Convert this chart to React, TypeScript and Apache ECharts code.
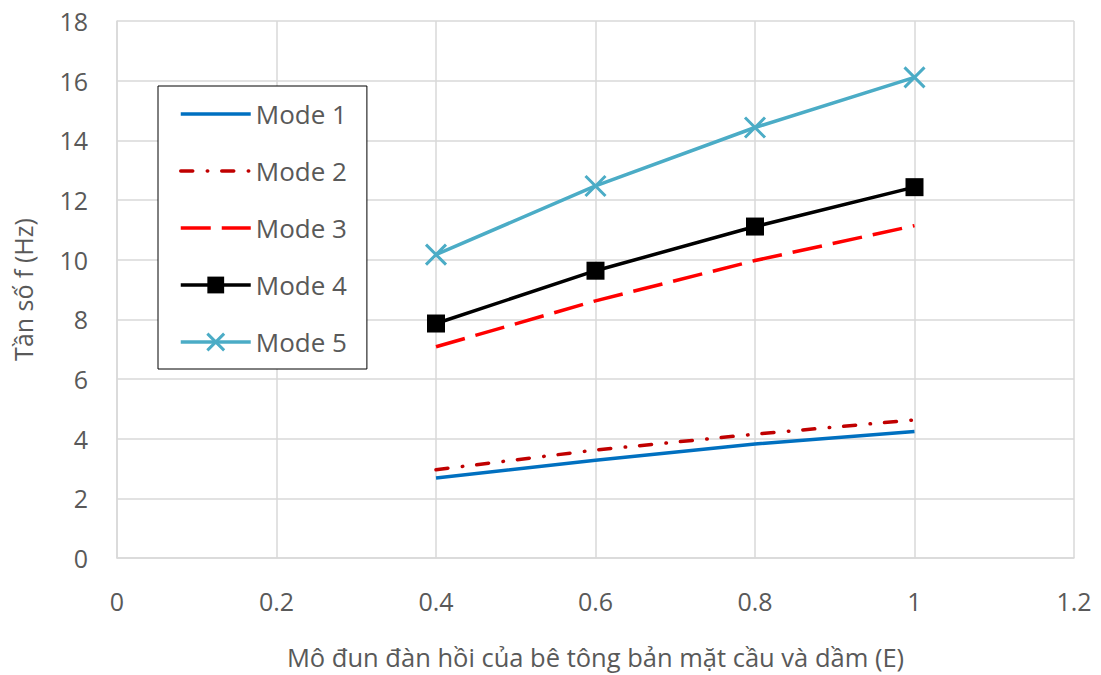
import React, { useEffect, useRef } from "react";
import * as echarts from "echarts";

// Elastic modulus of the deck / girder concrete (relative, E)
const xValues = [0.4, 0.6, 0.8, 1.0];

// Natural frequencies (Hz) for the first five modes
const mode1 = [2.68, 3.28, 3.82, 4.24];
const mode2 = [2.96, 3.62, 4.15, 4.63];
const mode3 = [7.08, 8.62, 9.97, 11.14];
const mode4 = [7.86, 9.63, 11.11, 12.43];
const mode5 = [10.17, 12.47, 14.43, 16.11];

const seriesNames = ["Mode 1", "Mode 2", "Mode 3", "Mode 4", "Mode 5"];

const xTickLabels = ["0", "0.2", "0.4", "0.6", "0.8", "1", "1.2"];
const yTickLabels = ["0", "2", "4", "6", "8", "10", "12", "14", "16", "18"];

const xTitle = "Mô đun đàn hồi của bê tông bản mặt cầu và dầm (E)";
const yTitle = "Tần số f (Hz)";

const FONT = "'Open Sans', 'Noto Sans', sans-serif";
const TEXT_COLOR = "#595959";
const GRID_COLOR = "#D9D9D9";
const CROSS = "path://M0,0L20,20M20,0L0,20";

const DASH_DOT = [12, 14.5, 0.5, 14];
const LONG_DASH = [30, 11];

const toPairs = (ys: number[]) => xValues.map((x, i) => [x, ys[i]]);

export default function App() {
  const ref = useRef<HTMLDivElement>(null);

  useEffect(() => {
    if (!ref.current) return;
    const chart = echarts.init(ref.current, undefined, { renderer: "svg" });

    const axisText = { color: TEXT_COLOR, fontSize: 25, fontFamily: FONT };
    const hiddenMarker = { opacity: 0, borderWidth: 0 };

    chart.setOption({
      animation: false,
      backgroundColor: "#ffffff",
      grid: { left: 117, right: 27, top: 21, bottom: 116 },
      xAxis: {
        type: "value",
        min: 0,
        max: 1.2,
        interval: 0.2,
        name: xTitle,
        nameLocation: "middle",
        nameGap: 86,
        nameTextStyle: { ...axisText, fontSize: 25.5 },
        axisLine: { show: true, lineStyle: { color: GRID_COLOR, width: 1.5 } },
        axisTick: { show: false },
        axisLabel: {
          ...axisText,
          margin: 30,
          formatter: (v: number) => xTickLabels[Math.round(v / 0.2)] ?? String(v),
        },
        splitLine: { show: true, lineStyle: { color: GRID_COLOR, width: 1.5 } },
      },
      yAxis: {
        type: "value",
        min: 0,
        max: 18,
        interval: 2,
        name: yTitle,
        nameLocation: "middle",
        nameGap: 82,
        nameTextStyle: { ...axisText },
        axisLine: { show: true, lineStyle: { color: GRID_COLOR, width: 1.5 } },
        axisTick: { show: false },
        axisLabel: {
          ...axisText,
          margin: 29,
          formatter: (v: number) => yTickLabels[Math.round(v / 2)] ?? String(v),
        },
        splitLine: { show: true, lineStyle: { color: GRID_COLOR, width: 1.5 } },
      },
      legend: {
        orient: "vertical",
        left: 158,
        top: 86,
        padding: [15, 20, 14, 21],
        itemWidth: 70,
        itemHeight: 21,
        itemGap: 31,
        backgroundColor: "#ffffff",
        borderColor: "#000000",
        borderWidth: 1,
        borderRadius: 0,
        textStyle: { color: TEXT_COLOR, fontSize: 26, fontFamily: FONT, lineHeight: 25 },
        lineStyle: { width: 3.5 },
        data: [
          { name: seriesNames[0], itemStyle: hiddenMarker },
          {
            name: seriesNames[1],
            itemStyle: hiddenMarker,
            lineStyle: { type: DASH_DOT, cap: "round", width: 3.5 },
          },
          {
            name: seriesNames[2],
            itemStyle: hiddenMarker,
            lineStyle: { type: LONG_DASH, cap: "butt", width: 3.5 },
          },
          { name: seriesNames[3], itemStyle: { color: "#000000", borderWidth: 0 } },
          {
            name: seriesNames[4],
            itemStyle: { color: "#4BACC6", borderColor: "#4BACC6", borderWidth: 3 },
          },
        ],
      },
      series: [
        {
          name: seriesNames[0],
          type: "line",
          data: toPairs(mode1),
          symbol: "none",
          color: "#0070C0",
          lineStyle: { color: "#0070C0", width: 3.5 },
        },
        {
          name: seriesNames[1],
          type: "line",
          data: toPairs(mode2),
          symbol: "none",
          color: "#C00000",
          lineStyle: { color: "#C00000", width: 3.5, type: DASH_DOT, cap: "round" },
        },
        {
          name: seriesNames[2],
          type: "line",
          data: toPairs(mode3),
          symbol: "none",
          color: "#FF0000",
          lineStyle: { color: "#FF0000", width: 3.5, type: LONG_DASH, cap: "butt" },
        },
        {
          name: seriesNames[3],
          type: "line",
          data: toPairs(mode4),
          symbol: "rect",
          symbolSize: 18,
          color: "#000000",
          itemStyle: { color: "#000000" },
          lineStyle: { color: "#000000", width: 3.5 },
        },
        {
          name: seriesNames[4],
          type: "line",
          data: toPairs(mode5),
          symbol: CROSS,
          symbolSize: 20,
          color: "#4BACC6",
          itemStyle: { color: "#4BACC6", borderColor: "#4BACC6", borderWidth: 3 },
          lineStyle: { color: "#4BACC6", width: 3.5 },
        },
      ],
    });

    return () => chart.dispose();
  }, []);

  return (
    <div
      ref={ref}
      style={{ position: "fixed", left: 0, top: 0, width: 1101, height: 675, background: "#fff" }}
    />
  );
}
